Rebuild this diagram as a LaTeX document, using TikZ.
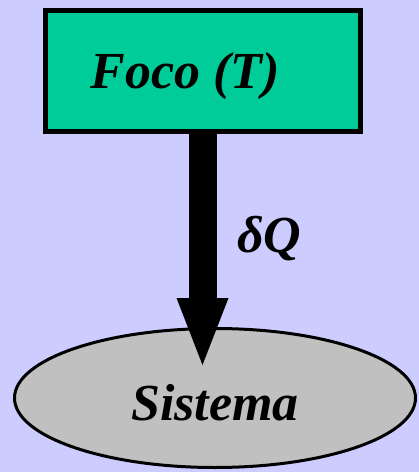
\documentclass[tikz,border=0pt]{standalone}
\usepackage{fontspec}
\setmainfont{Liberation Serif}
\usetikzlibrary{shapes.geometric,arrows.meta}
\definecolor{bgc}{HTML}{CCCCFF}
\definecolor{fococ}{HTML}{00CC99}
\definecolor{sisc}{HTML}{C0C0C0}
\tikzset{
  bigtext/.style={font=\fontsize{52}{60}\selectfont\bfseries\itshape},
  focobox/.style={draw=black, line width=5pt, fill=fococ, rectangle, inner sep=0pt, outer sep=0pt,
    minimum width=315pt, minimum height=121pt, bigtext, text height=35pt, text depth=0pt},
  sisbox/.style={draw=black, line width=3pt, fill=sisc, ellipse, inner sep=0pt, outer sep=0pt,
    minimum width=401pt, minimum height=139pt, bigtext, text height=44pt, text depth=0pt},
  heatarrow/.style={line width=28pt, -{Triangle[width=52pt,length=67pt,line width=0pt]}}
}
\begin{document}
\begin{tikzpicture}[x=1pt,y=-1pt]
\fill[bgc] (0,0) rectangle (419,472);
\useasboundingbox (0,0) rectangle (419,472);
\node[focobox] (foco) at (202.5,70.5) {Foco (T)\kern35pt\relax};
\node[sisbox] (sis) at (215,398) {Sistema};
\draw[heatarrow, shorten >=-36.5pt] (foco.south) -- (foco.south |- sis.north);
\node[bigtext, anchor=base west, inner sep=0pt] (dq) at (237,252) {δQ};
\end{tikzpicture}
\end{document}
